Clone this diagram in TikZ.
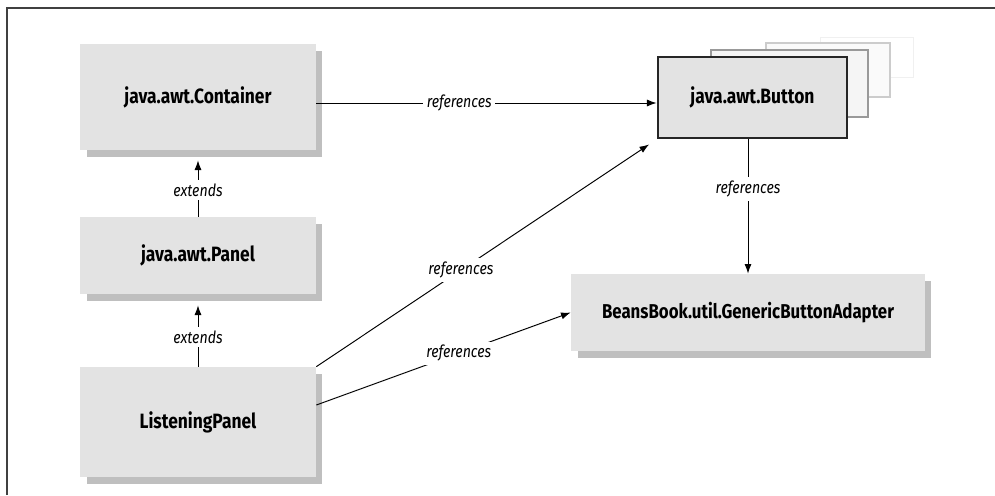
\documentclass[tikz,border=0pt]{standalone}
\usepackage{fontspec}
\setsansfont{Fira Sans}[FakeStretch=0.84]
\usepackage{tikz}
\usetikzlibrary{arrows.meta}
\usetikzlibrary{shadows}
\definecolor{boxgray}{HTML}{E3E3E3}
\definecolor{framegray}{HTML}{404040}

\begin{document}
\begin{tikzpicture}[x=0.02cm, y=-0.02cm,
  classbox/.style={fill=boxgray, text=black, font=\sffamily\bfseries\fontsize{11.8}{14}\selectfont,
    inner sep=0pt, drop shadow={shadow xshift=0.13cm, shadow yshift=-0.14cm, fill=black!50, opacity=0.5}},
  relline/.style={black, line width=0.55pt, -{Latex[length=5.5pt, width=4pt]}},
  rellabel/.style={fill=white, inner sep=2pt, font=\sffamily\itshape\fontsize{9.6}{11}\selectfont}]

\useasboundingbox (0,0) rectangle (995,495);

% frame (top and left edge only)
\draw[framegray, line width=1.1pt] (7,495)--(7,8)--(995,8);

% stacked copies behind the button
{
\draw[black!6, line width=0.5pt, fill=white] (820,37) rectangle (913,77);
\draw[black!20, line width=0.6pt, fill=black!2] (766,43) rectangle (890,97);
\draw[black!40, line width=0.7pt, fill=black!4] (711,50) rectangle (868,117);
}

% class boxes
\node (container) at (198,97) [classbox, minimum width=4.72cm, minimum height=2.12cm]{java.awt.Container};
\node (panel) at (198,255.5) [classbox, minimum width=4.72cm, minimum height=1.54cm]{java.awt.Panel};
\node (listening) at (198,422) [classbox, minimum width=4.72cm, minimum height=2.2cm]{ListeningPanel};
\node (button) at (752.5,97.5) [fill=boxgray, draw=black!85, line width=1.6pt, inner sep=0pt,
  font=\sffamily\bfseries\fontsize{11.8}{14}\selectfont, minimum width=3.78cm, minimum height=1.62cm]{java.awt.Button};
\node (adapter) at (748,312.5) [classbox, minimum width=7.08cm, minimum height=1.54cm,
  font=\sffamily\bfseries\fontsize{11.4}{14}\selectfont]{BeansBook.util.GenericButtonAdapter};

% extends
\draw[relline, shorten >=0.2cm] (panel.north) -- (container.south) node[rellabel, pos=0.4]{extends};
\draw[relline, shorten >=0.22cm] (listening.north) -- (panel.south) node[rellabel, pos=0.41]{extends};

% references
\draw[relline] ([yshift=-0.12cm]container.east) -- ([yshift=-0.12cm]container.east -| button.west)
  node[rellabel, pos=0.42]{references};
\draw[relline] (adapter.north |- button.south) -- (adapter.north) node[rellabel, pos=0.37]{references};
\draw[relline, shorten >=0.18cm] (listening.north east) -- (button.south west) node[rellabel, pos=0.425]{references};
\draw[relline] ([yshift=0.34cm]listening.east) -- (adapter.west) node[rellabel, pos=0.56]{references};

\end{tikzpicture}
\end{document}
